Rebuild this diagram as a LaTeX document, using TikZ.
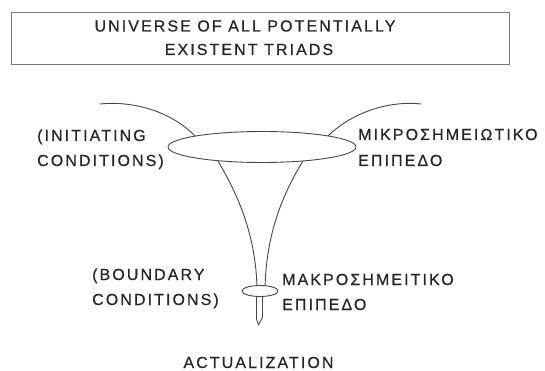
\documentclass[tikz,border=0pt]{standalone}
\usepackage{fontspec}
\setmainfont{Liberation Sans}[LetterSpace=13,FakeBold=0.6]
\usetikzlibrary{shapes.geometric}
\definecolor{ink}{HTML}{262626}
\definecolor{boxgray}{HTML}{7A7A7A}
\tikzset{
  lbl/.style={inner sep=0pt, text=ink, font=\fontsize{16}{20}\selectfont},
  curveline/.style={draw=ink!85, line width=0.9pt},
  ring/.style={ellipse, draw=ink!85, line width=0.9pt, fill=white, inner sep=0pt}
}
\begin{document}
\begin{tikzpicture}[x=1pt,y=-1pt]
\useasboundingbox (0,0) rectangle (545,371);
% top box
\node[draw=boxgray, line width=0.8pt, minimum width=498pt, minimum height=52pt, inner sep=0pt] (universe) at (260,38) {};
\node[lbl, anchor=base] (u1) at (245,31.5) {UNIVERSE OF ALL POTENTIALLY};
\node[lbl, anchor=base] (u2) at (249,55) {EXISTENT TRIADS};
% arcs
\coordinate (la) at (100,104);
\coordinate (ra) at (421,104);
\coordinate (lt) at (195,136);
\coordinate (rt) at (328,136);
\draw[curveline] (la) .. controls (140,100) and (176,116) .. (lt);
\draw[curveline] (rt) .. controls (348,116) and (384,100) .. (ra);
% funnel
\coordinate (fl) at (218,161);
\coordinate (fr) at (303,161);
\coordinate (nl) at (257,289);
\coordinate (nr) at (265,289);
\draw[curveline] (fl) .. controls (238,195) and (256,235) .. (nl);
\draw[curveline] (fr) .. controls (282,195) and (266,235) .. (nr);
% stem and tip
\coordinate (sl) at (256.5,292);
\coordinate (sr) at (262.5,292);
\coordinate (tip) at (258.5,325);
\draw[curveline, line join=round] (sl) -- (256.5,319) -- (tip) -- (262.5,317) -- (sr);
% ellipses
\node[ring, minimum width=188pt, minimum height=31pt] (big) at (262,147) {};
\node[ring, minimum width=36pt, minimum height=11pt] (small) at (260,291) {};
% labels
\node[lbl, anchor=base west] (i1) at (37,141) {(INITIATING};
\node[lbl, anchor=base west] (i2) at (37,166) {CONDITIONS)};
\node[lbl, anchor=base west] (m1) at (358,140) {ΜΙΚΡΟΣΗΜΕΙΩΤΙΚΟ};
\node[lbl, anchor=base west] (m2) at (358,166) {ΕΠΙΠΕΔΟ};
\node[lbl, anchor=base west] (b1) at (92,280) {(BOUNDARY};
\node[lbl, anchor=base west] (b2) at (92,305) {CONDITIONS)};
\node[lbl, anchor=base west] (k1) at (282,285) {ΜΑΚΡΟΣΗΜΕΙΤΙΚΟ};
\node[lbl, anchor=base west] (k2) at (282,310) {ΕΠΙΠΕΔΟ};
\node[lbl, anchor=base] (act) at (258.5,368) {ACTUALIZATION};
\end{tikzpicture}
\end{document}
